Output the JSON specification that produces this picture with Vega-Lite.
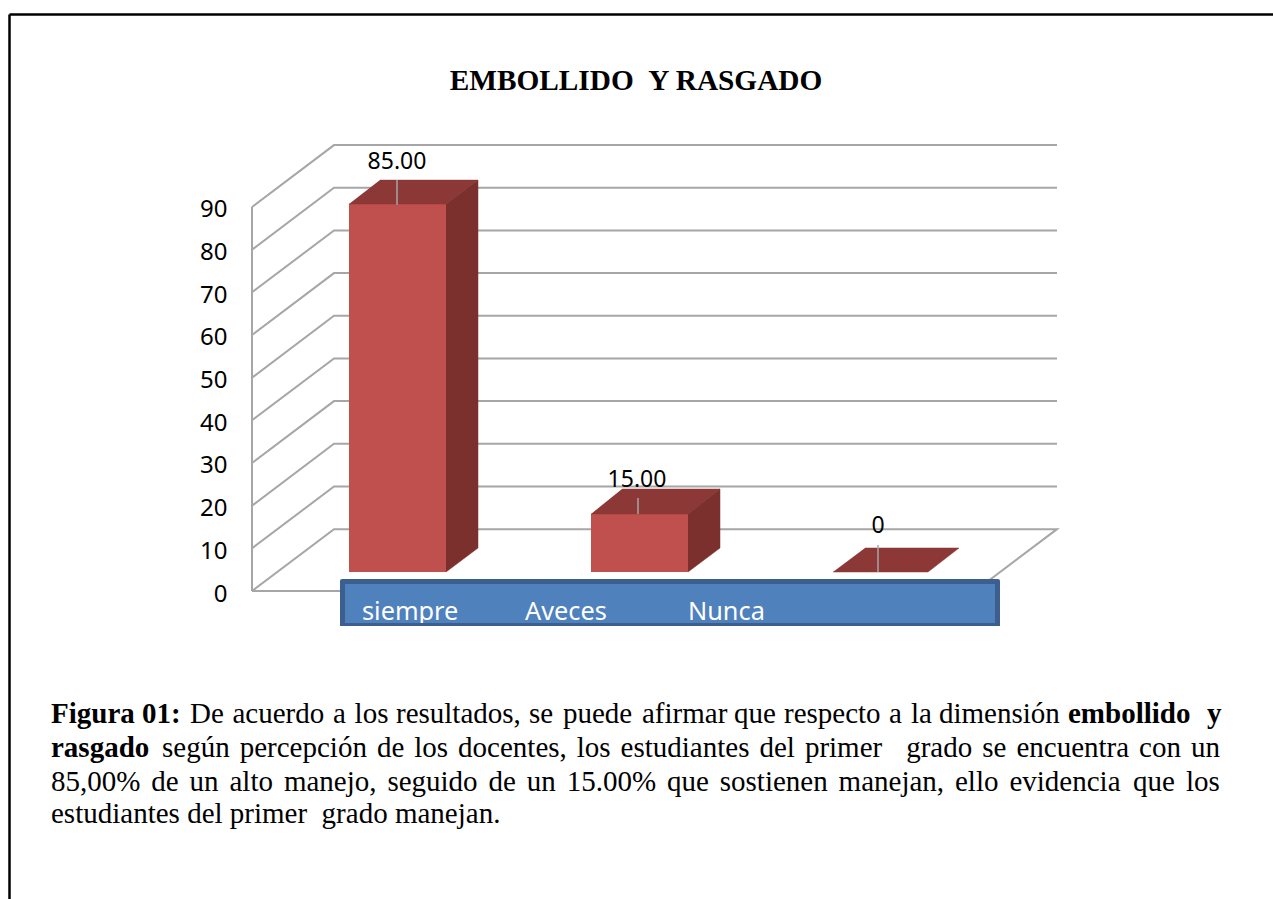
{"$schema":"https://vega.github.io/schema/vega-lite/v6.json","width":805,"height":447,"autosize":{"type":"none"},"padding":{"left":252,"top":144,"right":216,"bottom":308},"background":"white","view":{"stroke":null},
"title":{"text":"EMBOLLIDO \u00a0Y RASGADO","font":"Liberation Serif","fontSize":29.3,"fontWeight":"bold","color":"black","anchor":"middle","dx":-18.5,"offset":0,"dy":83,"frame":"group"},
"datasets":{
"rejilla":[
{"t":0,"ord":1,"xp":252,"v":0},{"t":0,"ord":2,"xp":334,"v":14.5},{"t":0,"ord":3,"xp":1057,"v":14.5},{"t":0,"ord":4,"xp":975,"v":0},{"t":0,"ord":5,"xp":252,"v":0},
{"t":10,"ord":1,"xp":252,"v":10},{"t":10,"ord":2,"xp":334,"v":24.5},{"t":10,"ord":3,"xp":1057,"v":24.5},
{"t":20,"ord":1,"xp":252,"v":20},{"t":20,"ord":2,"xp":334,"v":34.5},{"t":20,"ord":3,"xp":1057,"v":34.5},
{"t":30,"ord":1,"xp":252,"v":30},{"t":30,"ord":2,"xp":334,"v":44.5},{"t":30,"ord":3,"xp":1057,"v":44.5},
{"t":40,"ord":1,"xp":252,"v":40},{"t":40,"ord":2,"xp":334,"v":54.5},{"t":40,"ord":3,"xp":1057,"v":54.5},
{"t":50,"ord":1,"xp":252,"v":50},{"t":50,"ord":2,"xp":334,"v":64.5},{"t":50,"ord":3,"xp":1057,"v":64.5},
{"t":60,"ord":1,"xp":252,"v":60},{"t":60,"ord":2,"xp":334,"v":74.5},{"t":60,"ord":3,"xp":1057,"v":74.5},
{"t":70,"ord":1,"xp":252,"v":70},{"t":70,"ord":2,"xp":334,"v":84.5},{"t":70,"ord":3,"xp":1057,"v":84.5},
{"t":80,"ord":1,"xp":252,"v":80},{"t":80,"ord":2,"xp":334,"v":94.5},{"t":80,"ord":3,"xp":1057,"v":94.5},
{"t":90,"ord":1,"xp":252,"v":90},{"t":90,"ord":2,"xp":334,"v":104.5},{"t":90,"ord":3,"xp":1057,"v":104.5}
],
"frentes":[
{"categoria":"siempre","valor":85,"xp":349,"xp2":446,"v":90.7,"v2":4.45},
{"categoria":"Aveces","valor":15,"xp":591,"xp2":688,"v":18.05,"v2":4.45}
],
"tapas":[
{"categoria":"siempre","ord":1,"xp":349,"v":90.7},{"categoria":"siempre","ord":2,"xp":446,"v":90.7},{"categoria":"siempre","ord":3,"xp":478,"v":96.3},{"categoria":"siempre","ord":4,"xp":380,"v":96.3},
{"categoria":"Aveces","ord":1,"xp":591,"v":18.05},{"categoria":"Aveces","ord":2,"xp":688,"v":18.05},{"categoria":"Aveces","ord":3,"xp":720,"v":23.9},{"categoria":"Aveces","ord":4,"xp":622,"v":23.9},
{"categoria":"Nunca","ord":1,"xp":833,"v":4.45},{"categoria":"Nunca","ord":2,"xp":928,"v":4.45},{"categoria":"Nunca","ord":3,"xp":959,"v":10.08},{"categoria":"Nunca","ord":4,"xp":865,"v":10.08}
],
"lados":[
{"categoria":"siempre","ord":1,"xp":446,"v":90.7},{"categoria":"siempre","ord":2,"xp":478,"v":96.3},{"categoria":"siempre","ord":3,"xp":478,"v":10.08},{"categoria":"siempre","ord":4,"xp":446,"v":4.45},
{"categoria":"Aveces","ord":1,"xp":688,"v":18.05},{"categoria":"Aveces","ord":2,"xp":720,"v":23.9},{"categoria":"Aveces","ord":3,"xp":720,"v":10.08},{"categoria":"Aveces","ord":4,"xp":688,"v":4.45}
],
"lideres":[
{"categoria":"siempre","xp":397,"v":96.3,"v2":90.5},
{"categoria":"Aveces","xp":638,"v":21.8,"v2":18.05},
{"categoria":"Nunca","xp":878,"v":10.8,"v2":4.45}
],
"etiquetas":[
{"texto":"85.00","xp":397,"v":99},{"texto":"15.00","xp":637,"v":24.4},{"texto":"0","xp":878,"v":13.6}
],
"nombres":[
{"texto":"siempre","xp":362,"v":-6.7},{"texto":"Aveces","xp":525,"v":-6.7},{"texto":"Nunca","xp":688,"v":-6.7}
],
"parrafo":[
{"peso":"bold","texto":"Figura","xp":51,"v":-30.94},{"peso":"bold","texto":"01:","xp":142,"v":-30.94},
{"peso":"normal","texto":"De","xp":190,"v":-30.94},{"peso":"normal","texto":"acuerdo","xp":232.5,"v":-30.94},{"peso":"normal","texto":"a","xp":333,"v":-30.94},{"peso":"normal","texto":"los","xp":354.6,"v":-30.94},{"peso":"normal","texto":"resultados,","xp":396,"v":-30.94},{"peso":"normal","texto":"se","xp":529,"v":-30.94},{"peso":"normal","texto":"puede","xp":563,"v":-30.94},{"peso":"normal","texto":"afirmar","xp":642,"v":-30.94},{"peso":"normal","texto":"que","xp":734,"v":-30.94},{"peso":"normal","texto":"respecto","xp":784,"v":-30.94},{"peso":"normal","texto":"a","xp":889,"v":-30.94},{"peso":"normal","texto":"la","xp":911,"v":-30.94},{"peso":"normal","texto":"dimensión","xp":939,"v":-30.94},
{"peso":"bold","texto":"embollido","xp":1068,"v":-30.94},{"peso":"bold","texto":"y","xp":1207,"v":-30.94},
{"peso":"bold","texto":"rasgado","xp":51,"v":-38.9},
{"peso":"normal","texto":"según","xp":162,"v":-38.9},{"peso":"normal","texto":"percepción","xp":239.7,"v":-38.9},{"peso":"normal","texto":"de","xp":376.9,"v":-38.9},{"peso":"normal","texto":"los","xp":414.3,"v":-38.9},{"peso":"normal","texto":"docentes,","xp":458.1,"v":-38.9},{"peso":"normal","texto":"los","xp":576.8,"v":-38.9},{"peso":"normal","texto":"estudiantes","xp":620.6,"v":-38.9},{"peso":"normal","texto":"del","xp":759.5,"v":-38.9},{"peso":"normal","texto":"primer","xp":804.9,"v":-38.9},{"peso":"normal","texto":"grado","xp":906.2,"v":-38.9},{"peso":"normal","texto":"se","xp":982.2,"v":-38.9},{"peso":"normal","texto":"encuentra","xp":1016.4,"v":-38.9},{"peso":"normal","texto":"con","xp":1139.1,"v":-38.9},{"peso":"normal","texto":"un","xp":1191,"v":-38.9},
{"peso":"normal","texto":"85,00%","xp":51,"v":-46.87},{"peso":"normal","texto":"de","xp":151.3,"v":-46.87},{"peso":"normal","texto":"un","xp":189.6,"v":-46.87},{"peso":"normal","texto":"alto","xp":229.5,"v":-46.87},{"peso":"normal","texto":"manejo,","xp":283.9,"v":-46.87},{"peso":"normal","texto":"seguido","xp":387.4,"v":-46.87},{"peso":"normal","texto":"de","xp":488.5,"v":-46.87},{"peso":"normal","texto":"un","xp":526.8,"v":-46.87},{"peso":"normal","texto":"15.00%","xp":566.7,"v":-46.87},{"peso":"normal","texto":"que","xp":667,"v":-46.87},{"peso":"normal","texto":"sostienen","xp":719.8,"v":-46.87},{"peso":"normal","texto":"manejan,","xp":838.6,"v":-46.87},{"peso":"normal","texto":"ello","xp":955,"v":-46.87},{"peso":"normal","texto":"evidencia","xp":1009.4,"v":-46.87},{"peso":"normal","texto":"que","xp":1133.1,"v":-46.87},{"peso":"normal","texto":"los","xp":1185.9,"v":-46.87},
{"peso":"normal","texto":"estudiantes","xp":51,"v":-54.37},{"peso":"normal","texto":"del","xp":187.2,"v":-54.37},{"peso":"normal","texto":"primer","xp":229.8,"v":-54.37},{"peso":"normal","texto":"grado","xp":321.6,"v":-54.37},{"peso":"normal","texto":"manejan.","xp":394.9,"v":-54.37}
]
},
"encoding":{
"x":{"field":"xp","type":"quantitative","scale":{"domain":[252,1057],"nice":false,"zero":false},"axis":null},
"y":{"field":"v","type":"quantitative","scale":{"domain":[0,104.76],"nice":false,"zero":false},"axis":{"values":[0,10,20,30,40,50,60,70,80,90],"title":null,"domain":false,"ticks":false,"grid":false,"labelFont":"Noto Sans","labelFontSize":24,"labelColor":"black","labelPadding":25,"labelOffset":3,"labelFlush":false,"labelOverlap":false}}
},
"layer":[
{"data":{"values":[{"xp":9.5,"xp2":1273,"v":135.1,"v2":135.1},{"xp":9.5,"xp2":9.5,"v":135.1,"v2":-72.2}]},"mark":{"type":"rule","color":"black","strokeWidth":2.5},"encoding":{"x2":{"field":"xp2"},"y2":{"field":"v2"}}},
{"data":{"values":[{"xp":252,"v":90,"v2":0}]},"mark":{"type":"rule","color":"#a6a6a6","strokeWidth":2},"encoding":{"y2":{"field":"v2"}}},
{"data":{"name":"rejilla"},"mark":{"type":"line","color":"#a6a6a6","strokeWidth":2},"encoding":{"detail":{"field":"t"},"order":{"field":"ord"}}},
{"data":{"name":"frentes"},"mark":{"type":"rect","color":"#c0504d"},"encoding":{"x2":{"field":"xp2"},"y2":{"field":"v2"}}},
{"data":{"name":"tapas"},"mark":{"type":"line","fill":"#8c3836","stroke":"#8c3836","strokeWidth":0.5},"encoding":{"detail":{"field":"categoria"},"order":{"field":"ord"}}},
{"data":{"name":"lados"},"mark":{"type":"line","fill":"#7b302e","stroke":"#7b302e","strokeWidth":0.5},"encoding":{"detail":{"field":"categoria"},"order":{"field":"ord"}}},
{"data":{"name":"lideres"},"mark":{"type":"rule","color":"#a6a6a6","strokeWidth":1.5},"encoding":{"y2":{"field":"v2"}}},
{"data":{"name":"etiquetas"},"mark":{"type":"text","font":"Noto Sans","fontSize":23,"color":"black","align":"center","baseline":"alphabetic"},"encoding":{"text":{"field":"texto"}}},
{"data":{"values":[{"xp":340,"xp2":1000,"v":2.81,"v2":-8.2}]},"mark":{"type":"rect","color":"#3d5f8f","cornerRadius":2},"encoding":{"x2":{"field":"xp2"},"y2":{"field":"v2"}}},
{"data":{"values":[{"xp":345,"xp2":995,"v":1.64,"v2":-7.5}]},"mark":{"type":"rect","color":"#4f81bd"},"encoding":{"x2":{"field":"xp2"},"y2":{"field":"v2"}}},
{"data":{"name":"nombres"},"mark":{"type":"text","font":"Noto Sans","fontSize":25.3,"color":"white","align":"left","baseline":"alphabetic"},"encoding":{"text":{"field":"texto"}}},
{"data":{"values":[{"xp":340,"xp2":1000,"v":-7.5,"v2":-8.2}]},"mark":{"type":"rect","color":"#3d5f8f"},"encoding":{"x2":{"field":"xp2"},"y2":{"field":"v2"}}},
{"data":{"name":"parrafo"},"transform":[{"filter":"datum.peso==='bold'"}],"mark":{"type":"text","font":"Liberation Serif","fontSize":29,"fontWeight":"bold","color":"black","align":"left","baseline":"alphabetic"},"encoding":{"text":{"field":"texto"}}},
{"data":{"name":"parrafo"},"transform":[{"filter":"datum.peso==='normal'"}],"mark":{"type":"text","font":"Liberation Serif","fontSize":29,"color":"black","align":"left","baseline":"alphabetic"},"encoding":{"text":{"field":"texto"}}}
]}
